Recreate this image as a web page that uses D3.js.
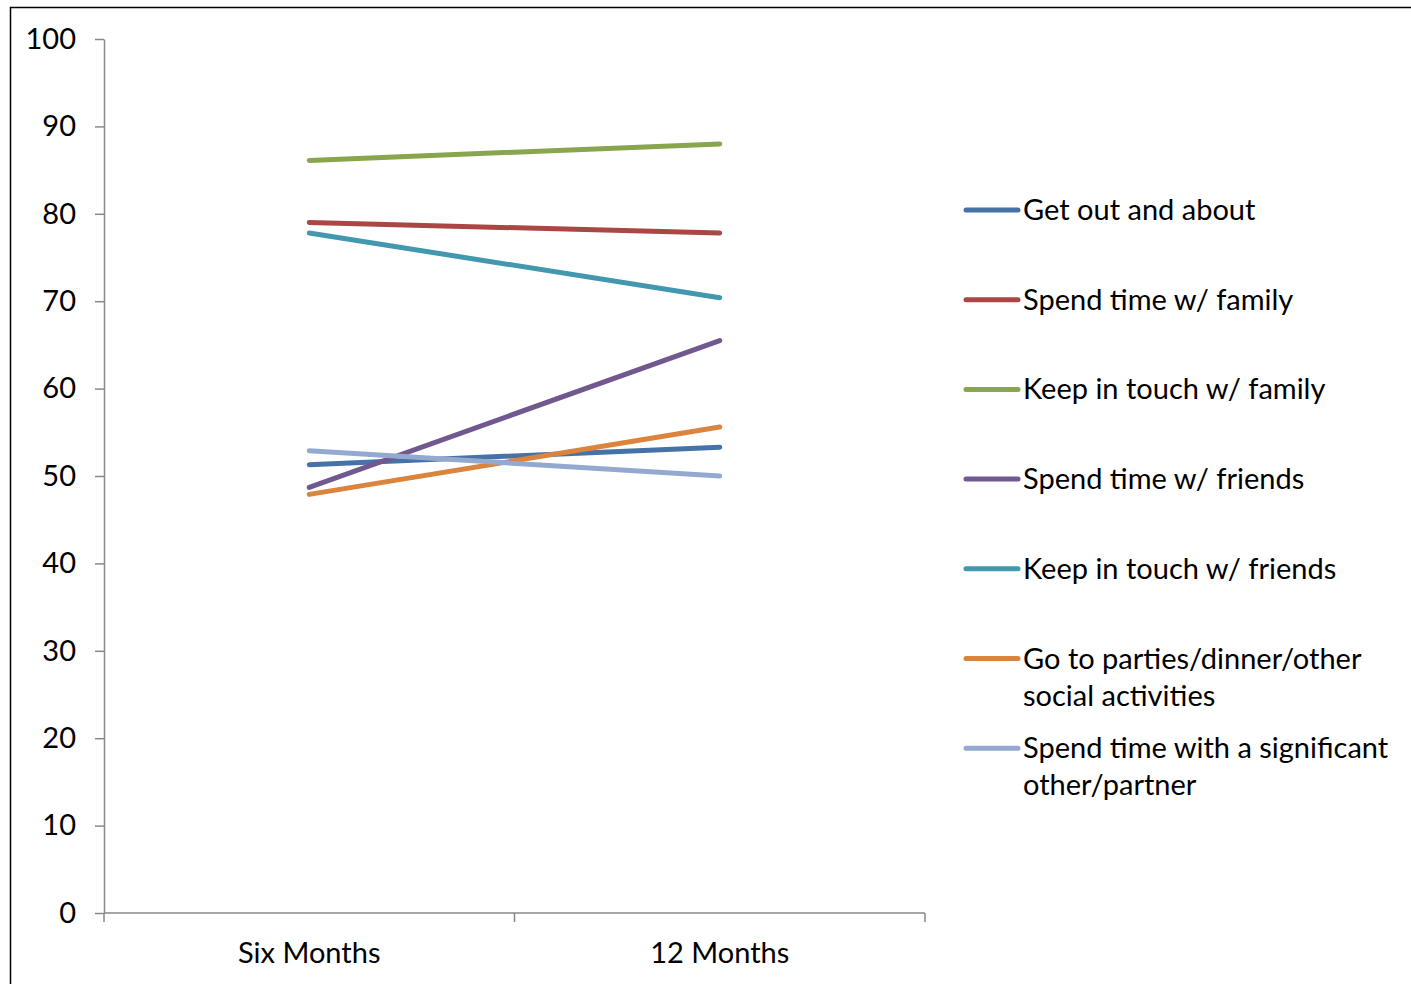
<!DOCTYPE html>
<html>
<head>
<meta charset="utf-8">
<script src="https://cdn.jsdelivr.net/npm/d3@7"></script>
<style>
  html, body { margin: 0; padding: 0; background: #fff; }
  svg { display: block; }
  text { font-family: "Lato", "Open Sans", sans-serif; fill: #000; }
</style>
</head>
<body>
<svg id="chart" width="1411" height="984"></svg>
<script>
// Survey periods on the x axis
const periods = ["Six Months", "12 Months"];

// Activity series (percent of respondents)
const seriesNames = [
  "Get out and about",
  "Spend time w/ family",
  "Keep in touch w/ family",
  "Spend time w/ friends",
  "Keep in touch w/ friends",
  "Go to parties/dinner/other social activities",
  "Spend time with a significant other/partner"
];
const getOutAndAbout = [51.3, 53.3];
const spendTimeFamily = [79.0, 77.8];
const keepInTouchFamily = [86.1, 88.0];
const spendTimeFriends = [48.7, 65.5];
const keepInTouchFriends = [77.8, 70.4];
const goToParties = [47.9, 55.6];
const significantOther = [52.9, 50.0];

const seriesColors = ["#4572A7", "#AA4643", "#89A54E", "#71588F", "#4198AF", "#DB843D", "#93A9CF"];

// Legend label lines (wrapped as shown)
const legendLines = [
  ["Get out and about"],
  ["Spend time w/ family"],
  ["Keep in touch w/ family"],
  ["Spend time w/ friends"],
  ["Keep in touch w/ friends"],
  ["Go to parties/dinner/other", "social activities"],
  ["Spend time with a significant", "other/partner"]
];

const yTicks = [0, 10, 20, 30, 40, 50, 60, 70, 80, 90, 100];

const seriesValues = [getOutAndAbout, spendTimeFamily, keepInTouchFamily,
  spendTimeFriends, keepInTouchFriends, goToParties, significantOther];

const svg = d3.select("#chart");

// Outer frame
svg.append("rect")
  .attr("x", 10.5).attr("y", 7.5)
  .attr("width", 1411).attr("height", 990)
  .attr("fill", "none").attr("stroke", "#000").attr("stroke-width", 1.5);

const plot = { left: 104, right: 925, top: 39, bottom: 913 };

const x = d3.scaleBand().domain(periods).range([plot.left, plot.right]);
const y = d3.scaleLinear().domain([0, 100]).range([plot.bottom, plot.top]);

// Y axis
const yAxis = svg.append("g")
  .attr("transform", `translate(${plot.left},0)`)
  .call(d3.axisLeft(y).tickValues(yTicks).tickSize(9).tickPadding(19).tickSizeOuter(0));
yAxis.select(".domain").attr("stroke", "#888").attr("stroke-width", 1.5);
yAxis.selectAll(".tick line").attr("stroke", "#888").attr("stroke-width", 1.5);
yAxis.selectAll(".tick text")
  .style("font-family", "Lato, sans-serif").style("font-size", "29px").attr("fill", "#000");

// X axis with boundary ticks between categories
const xAxisG = svg.append("g").attr("transform", `translate(0,${plot.bottom})`);
xAxisG.append("line")
  .attr("x1", plot.left).attr("x2", plot.right)
  .attr("stroke", "#888").attr("stroke-width", 1.5);
const boundaries = [plot.left].concat(periods.map(p => x(p) + x.bandwidth()));
xAxisG.selectAll("line.bt").data(boundaries).join("line")
  .attr("class", "bt")
  .attr("x1", d => d).attr("x2", d => d)
  .attr("y1", 0).attr("y2", 9)
  .attr("stroke", "#888").attr("stroke-width", 1.5);
xAxisG.selectAll("text").data(periods).join("text")
  .attr("x", d => x(d) + x.bandwidth() / 2)
  .attr("y", 50)
  .attr("text-anchor", "middle")
  .style("font-size", "29px")
  .text(d => d);

// Series lines
const line = d3.line()
  .x((d, i) => x(periods[i]) + x.bandwidth() / 2)
  .y(d => y(d));

svg.append("g").selectAll("path").data(seriesValues).join("path")
  .attr("d", d => line(d))
  .attr("fill", "none")
  .attr("stroke", (d, i) => seriesColors[i])
  .attr("stroke-width", 5)
  .attr("stroke-linecap", "round");

// Legend
const legendTop = 210, legendStep = 89.7;
const legend = svg.append("g");
seriesNames.forEach((name, i) => {
  const cy = legendTop + i * legendStep;
  legend.append("line")
    .attr("x1", 966).attr("x2", 1018)
    .attr("y1", cy).attr("y2", cy)
    .attr("stroke", seriesColors[i]).attr("stroke-width", 5)
    .attr("stroke-linecap", "round");
  const t = legend.append("text")
    .attr("x", 1023).attr("y", cy + 10)
    .style("font-size", "29px");
  legendLines[i].forEach((ln, j) => {
    t.append("tspan").attr("x", 1023).attr("dy", j === 0 ? 0 : 37).text(ln);
  });
});
</script>
</body>
</html>
